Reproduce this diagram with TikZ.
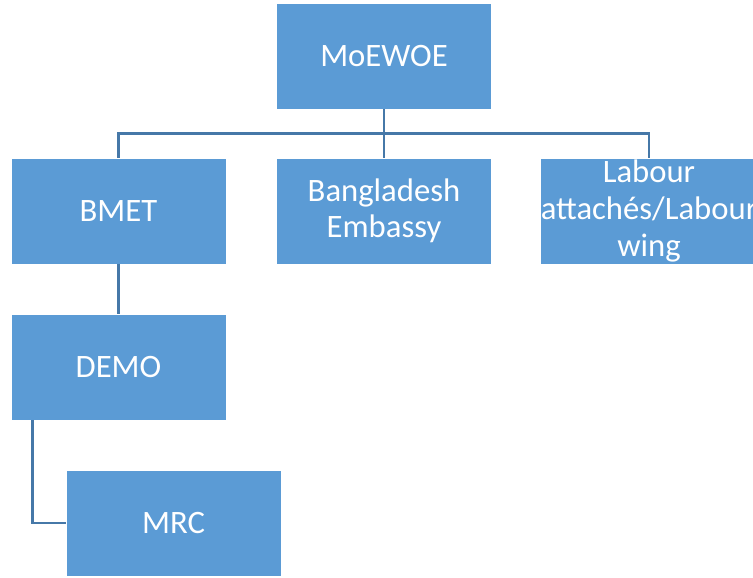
\documentclass[tikz,border=0pt]{standalone}
\usepackage{fontspec}
\setmainfont{Carlito}
\usepackage{tikz}
\usetikzlibrary{positioning}

\definecolor{boxblue}{RGB}{91,155,213}
\definecolor{linkblue}{RGB}{70,120,168}

\tikzset{
    unit/.style = {draw=white, line width=0.4pt, fill=boxblue, text=white,
        minimum width=4.3cm, minimum height=2.12cm, inner sep=0pt, align=center,
        font=\fontsize{18.6}{20.8}\selectfont},
    link/.style = {draw=linkblue, line width=1.6pt}
}

\begin{document}
\begin{tikzpicture}[x = 2cm , y = 2cm]
    \useasboundingbox (0,0) rectangle (7.53,5.77);
    % Κορυφή
    \node[unit] (moewoe) at (3.84,5.21) {MoEWOE};
    % Δεύτερο επίπεδο
    \node[unit] (bmet) at (1.185,3.66) {BMET};
    \node[unit] (embassy) at (3.84,3.66) {Bangladesh\\Embassy};
    \node[unit] (labour) at (6.49,3.66) {Labour\\attachés/Labour\\wing};
    % Τρίτο και τέταρτο επίπεδο
    \node[unit] (demo) at (1.185,2.10) {DEMO};
    \node[unit] (mrc) at (1.735,0.54) {MRC};
    % Συνδέσεις
    \draw[link] (moewoe.south) -- (embassy.north);
    \draw[link] (moewoe.south) -- ++(0,-0.245) -| (bmet.north);
    \draw[link] (moewoe.south) -- ++(0,-0.245) -| (labour.north);
    \draw[link] (bmet.south) -- (demo.north);
    \draw[link] ([xshift=0.44cm]demo.south west) |- (mrc.west);
\end{tikzpicture}
\end{document}
